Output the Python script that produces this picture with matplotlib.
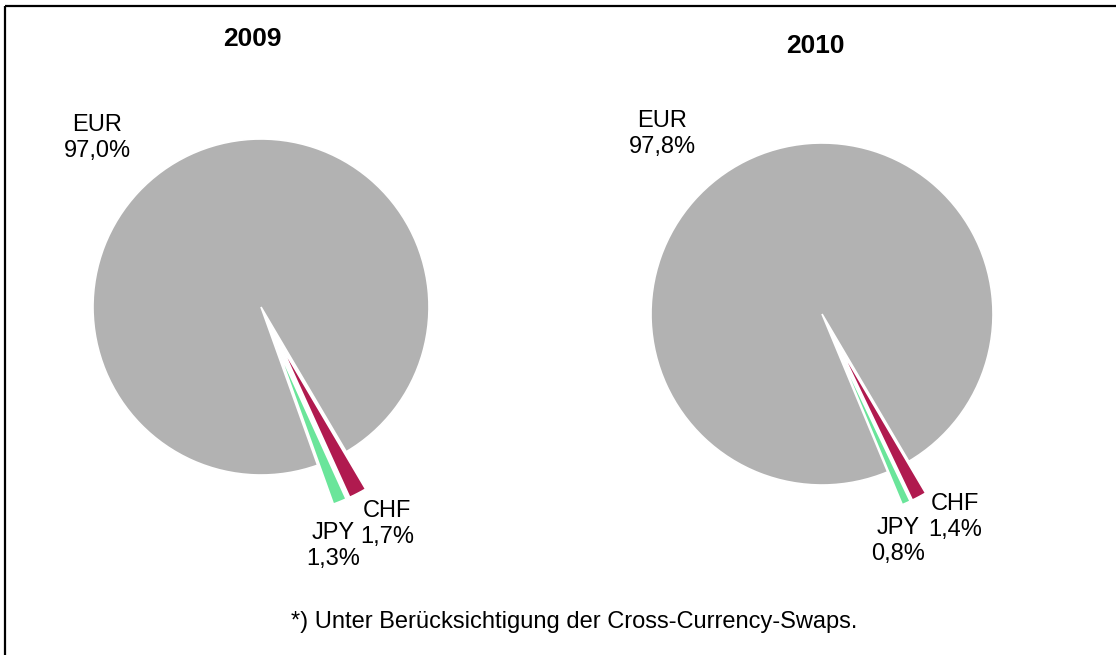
import matplotlib
matplotlib.use("Agg")
import matplotlib.pyplot as plt

plt.rcParams['font.family'] = ['Liberation Sans', 'DejaVu Sans']

currencies = ['CHF', 'JPY', 'EUR']
shares_2009 = [1.7, 1.3, 97.0]
shares_2010 = [1.4, 0.8, 97.8]
years = ['2009', '2010']
footnote = '*) Unter Berücksichtigung der Cross-Currency-Swaps.'
colors = ['#B01A4F', '#6AE59A', '#B2B2B2']

W, H = 1116, 655
fig = plt.figure(figsize=(W / 100, H / 100), dpi=100)
ax = fig.add_axes([0, 0, 1, 1])

pies = [
    dict(values=shares_2009, center=(261, H - 307), radius=168, explode=0.25,
         title_pos=(252, H - 39),
         label_pos=[(387, H - 523), (333, H - 545), (97, H - 137)]),
    dict(values=shares_2010, center=(822, H - 314), radius=171, explode=0.21,
         title_pos=(815, H - 46),
         label_pos=[(955, H - 516), (898, H - 540), (662, H - 133)]),
]

fs = 17
for year, p in zip(years, pies):
    off = p['explode'] * p['radius']  # matplotlib explode is in data units
    ax.pie(p['values'], colors=colors, startangle=-59.5, counterclock=False,
           center=p['center'], radius=p['radius'],
           explode=[off, off, 0.0],
           wedgeprops=dict(edgecolor='white', linewidth=1.2))
    ax.text(*p['title_pos'], year, ha='center', va='center',
            fontsize=19, fontweight='bold')
    for name, val, pos in zip(currencies, p['values'], p['label_pos']):
        txt = f"{name}\n{val:.1f}%".replace('.', ',')
        ax.text(pos[0], pos[1] - 1, txt, ha='center', va='center',
                fontsize=fs, linespacing=1.18)

ax.text(574, H - 622, footnote, ha='center', va='center', fontsize=fs)

# frame (left and top edges visible)
ax.plot([4.5, 4.5], [0, H - 6], color='black', lw=1.6, solid_capstyle='butt')
ax.plot([4.5, W], [H - 6, H - 6], color='black', lw=1.6, solid_capstyle='butt')

ax.set_xlim(0, W)
ax.set_ylim(0, H)
ax.set_aspect('auto')
ax.axis('off')

fig.savefig('out.png', dpi=100)
